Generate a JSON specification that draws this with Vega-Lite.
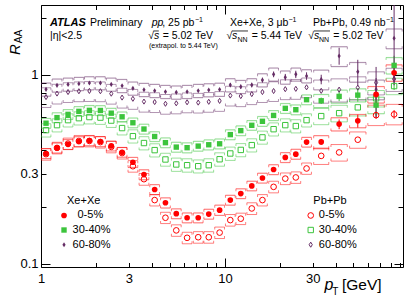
{
"$schema":"https://vega.github.io/schema/vega-lite/v6.json",
"width":362,"height":262,
"autosize":{"type":"none"},
"padding":{"left":41,"top":5,"right":8,"bottom":30},
"config":{"view":{"stroke":"#000","strokeWidth":1},"font":"Liberation Sans",
"axis":{"domain":false,"grid":false,"tickColor":"#000","tickWidth":1,"labelFont":"Liberation Sans","labelFontSize":13,"labelColor":"#000","labelFlush":false,"labelOverlap":false}},
"datasets":{
"bins":[{"b":1,"x":1.065,"lo":1.002,"hi":1.132},{"b":2,"x":1.222,"lo":1.15,"hi":1.299},{"b":3,"x":1.403,"lo":1.32,"hi":1.491},{"b":4,"x":1.607,"lo":1.512,"hi":1.708},{"b":5,"x":1.833,"lo":1.724,"hi":1.948},{"b":6,"x":2.104,"lo":1.979,"hi":2.237},{"b":7,"x":2.41,"lo":2.267,"hi":2.562},{"b":8,"x":2.76,"lo":2.596,"hi":2.934},{"b":9,"x":3.16,"lo":2.973,"hi":3.359},{"b":10,"x":3.63,"lo":3.415,"hi":3.859},{"b":11,"x":4.15,"lo":3.904,"hi":4.411},{"b":12,"x":4.75,"lo":4.468,"hi":5.049},{"b":13,"x":5.44,"lo":5.118,"hi":5.783},{"b":14,"x":6.23,"lo":5.861,"hi":6.622},{"b":15,"x":7.16,"lo":6.736,"hi":7.611},{"b":16,"x":8.17,"lo":7.686,"hi":8.685},{"b":17,"x":9.36,"lo":8.805,"hi":9.95},{"b":18,"x":10.7,"lo":10.07,"hi":11.37},{"b":19,"x":12.2,"lo":11.48,"hi":12.97},{"b":20,"x":14.0,"lo":13.17,"hi":14.88},{"b":21,"x":16.0,"lo":15.05,"hi":17.01},{"b":22,"x":18.4,"lo":17.31,"hi":19.56},{"b":23,"x":21.3,"lo":20.04,"hi":22.64},{"b":24,"x":24.3,"lo":22.86,"hi":25.83},{"b":25,"x":27.8,"lo":26.15,"hi":29.55},{"b":26,"x":33.4,"lo":30.39,"hi":36.71},{"b":27,"x":41.8,"lo":37.73,"hi":46.31},{"b":28,"x":52.8,"lo":47.65,"hi":58.5},{"b":29,"x":66.4,"lo":59.87,"hi":73.64},{"b":30,"x":83.2,"lo":75.23,"hi":92.02}],
"d":[
{"b":1,"c":"c0","s":"Xe","y":0.383,"sl":0.36,"sh":0.406},
{"b":2,"c":"c0","s":"Xe","y":0.41,"sl":0.385,"sh":0.435},
{"b":3,"c":"c0","s":"Xe","y":0.428,"sl":0.402,"sh":0.454},
{"b":4,"c":"c0","s":"Xe","y":0.443,"sl":0.416,"sh":0.47},
{"b":5,"c":"c0","s":"Xe","y":0.448,"sl":0.421,"sh":0.475},
{"b":6,"c":"c0","s":"Xe","y":0.443,"sl":0.416,"sh":0.47},
{"b":7,"c":"c0","s":"Xe","y":0.42,"sl":0.395,"sh":0.445},
{"b":8,"c":"c0","s":"Xe","y":0.389,"sl":0.366,"sh":0.412},
{"b":9,"c":"c0","s":"Xe","y":0.344,"sl":0.323,"sh":0.365},
{"b":10,"c":"c0","s":"Xe","y":0.296,"sl":0.278,"sh":0.314},
{"b":11,"c":"c0","s":"Xe","y":0.247,"sl":0.232,"sh":0.262},
{"b":12,"c":"c0","s":"Xe","y":0.21,"sl":0.197,"sh":0.223},
{"b":13,"c":"c0","s":"Xe","y":0.184,"sl":0.173,"sh":0.195},
{"b":14,"c":"c0","s":"Xe","y":0.175,"sl":0.1645,"sh":0.1855},
{"b":15,"c":"c0","s":"Xe","y":0.175,"sl":0.1645,"sh":0.1855},
{"b":16,"c":"c0","s":"Xe","y":0.183,"sl":0.172,"sh":0.194},
{"b":17,"c":"c0","s":"Xe","y":0.192,"sl":0.18,"sh":0.204},
{"b":18,"c":"c0","s":"Xe","y":0.217,"sl":0.204,"sh":0.23},
{"b":19,"c":"c0","s":"Xe","y":0.235,"sl":0.221,"sh":0.249},
{"b":20,"c":"c0","s":"Xe","y":0.258,"sl":0.243,"sh":0.273},
{"b":21,"c":"c0","s":"Xe","y":0.284,"sl":0.267,"sh":0.301},
{"b":22,"c":"c0","s":"Xe","y":0.315,"sl":0.296,"sh":0.334},
{"b":23,"c":"c0","s":"Xe","y":0.365,"sl":0.343,"sh":0.387},
{"b":24,"c":"c0","s":"Xe","y":0.38,"sl":0.357,"sh":0.403},
{"b":25,"c":"c0","s":"Xe","y":0.44,"sl":0.414,"sh":0.466,"el":0.43,"eh":0.45},
{"b":26,"c":"c0","s":"Xe","y":0.441,"sl":0.406,"sh":0.476,"el":0.425,"eh":0.457},
{"b":27,"c":"c0","s":"Xe","y":0.548,"sl":0.504,"sh":0.592,"el":0.515,"eh":0.58},
{"b":28,"c":"c0","s":"Xe","y":0.57,"sl":0.524,"sh":0.616,"el":0.525,"eh":0.615},
{"b":29,"c":"c0","s":"Xe","y":0.787,"sl":0.708,"sh":0.866,"el":0.71,"eh":0.87},
{"b":30,"c":"c0","s":"Xe","y":1.025,"sl":0.923,"sh":1.128,"el":0.92,"eh":1.14},
{"b":1,"c":"c0","s":"Pb","y":0.38,"sl":0.353,"sh":0.407},
{"b":2,"c":"c0","s":"Pb","y":0.41,"sl":0.381,"sh":0.439},
{"b":3,"c":"c0","s":"Pb","y":0.432,"sl":0.402,"sh":0.462},
{"b":4,"c":"c0","s":"Pb","y":0.446,"sl":0.415,"sh":0.477},
{"b":5,"c":"c0","s":"Pb","y":0.446,"sl":0.415,"sh":0.477},
{"b":6,"c":"c0","s":"Pb","y":0.44,"sl":0.409,"sh":0.471},
{"b":7,"c":"c0","s":"Pb","y":0.415,"sl":0.386,"sh":0.444},
{"b":8,"c":"c0","s":"Pb","y":0.385,"sl":0.358,"sh":0.412},
{"b":9,"c":"c0","s":"Pb","y":0.328,"sl":0.305,"sh":0.351},
{"b":10,"c":"c0","s":"Pb","y":0.28,"sl":0.26,"sh":0.3},
{"b":11,"c":"c0","s":"Pb","y":0.217,"sl":0.202,"sh":0.232},
{"b":12,"c":"c0","s":"Pb","y":0.175,"sl":0.163,"sh":0.187},
{"b":13,"c":"c0","s":"Pb","y":0.15,"sl":0.1395,"sh":0.1605},
{"b":14,"c":"c0","s":"Pb","y":0.137,"sl":0.1274,"sh":0.1466},
{"b":15,"c":"c0","s":"Pb","y":0.138,"sl":0.1283,"sh":0.1477},
{"b":16,"c":"c0","s":"Pb","y":0.138,"sl":0.1283,"sh":0.1477},
{"b":17,"c":"c0","s":"Pb","y":0.146,"sl":0.1358,"sh":0.1562},
{"b":18,"c":"c0","s":"Pb","y":0.17,"sl":0.158,"sh":0.182},
{"b":19,"c":"c0","s":"Pb","y":0.173,"sl":0.161,"sh":0.185},
{"b":20,"c":"c0","s":"Pb","y":0.196,"sl":0.182,"sh":0.21},
{"b":21,"c":"c0","s":"Pb","y":0.217,"sl":0.202,"sh":0.232},
{"b":22,"c":"c0","s":"Pb","y":0.255,"sl":0.237,"sh":0.273},
{"b":23,"c":"c0","s":"Pb","y":0.282,"sl":0.262,"sh":0.302},
{"b":24,"c":"c0","s":"Pb","y":0.286,"sl":0.266,"sh":0.306},
{"b":25,"c":"c0","s":"Pb","y":0.319,"sl":0.297,"sh":0.341},
{"b":26,"c":"c0","s":"Pb","y":0.372,"sl":0.335,"sh":0.409},
{"b":27,"c":"c0","s":"Pb","y":0.388,"sl":0.349,"sh":0.427},
{"b":28,"c":"c0","s":"Pb","y":0.453,"sl":0.408,"sh":0.498},
{"b":29,"c":"c0","s":"Pb","y":0.611,"sl":0.538,"sh":0.69,"el":0.585,"eh":0.638},
{"b":30,"c":"c0","s":"Pb","y":0.617,"sl":0.543,"sh":0.697,"el":0.585,"eh":0.65},
{"b":1,"c":"c3","s":"Xe","y":0.554,"sl":0.521,"sh":0.587},
{"b":2,"c":"c3","s":"Xe","y":0.593,"sl":0.557,"sh":0.629},
{"b":3,"c":"c3","s":"Xe","y":0.617,"sl":0.58,"sh":0.654},
{"b":4,"c":"c3","s":"Xe","y":0.64,"sl":0.602,"sh":0.678},
{"b":5,"c":"c3","s":"Xe","y":0.648,"sl":0.609,"sh":0.687},
{"b":6,"c":"c3","s":"Xe","y":0.647,"sl":0.608,"sh":0.686},
{"b":7,"c":"c3","s":"Xe","y":0.626,"sl":0.588,"sh":0.664},
{"b":8,"c":"c3","s":"Xe","y":0.599,"sl":0.563,"sh":0.635},
{"b":9,"c":"c3","s":"Xe","y":0.557,"sl":0.524,"sh":0.59},
{"b":10,"c":"c3","s":"Xe","y":0.516,"sl":0.485,"sh":0.547},
{"b":11,"c":"c3","s":"Xe","y":0.471,"sl":0.443,"sh":0.499},
{"b":12,"c":"c3","s":"Xe","y":0.437,"sl":0.411,"sh":0.463},
{"b":13,"c":"c3","s":"Xe","y":0.414,"sl":0.389,"sh":0.439},
{"b":14,"c":"c3","s":"Xe","y":0.411,"sl":0.386,"sh":0.436},
{"b":15,"c":"c3","s":"Xe","y":0.419,"sl":0.394,"sh":0.444},
{"b":16,"c":"c3","s":"Xe","y":0.426,"sl":0.4,"sh":0.452},
{"b":17,"c":"c3","s":"Xe","y":0.431,"sl":0.405,"sh":0.457},
{"b":18,"c":"c3","s":"Xe","y":0.482,"sl":0.453,"sh":0.511},
{"b":19,"c":"c3","s":"Xe","y":0.506,"sl":0.476,"sh":0.536},
{"b":20,"c":"c3","s":"Xe","y":0.54,"sl":0.508,"sh":0.572},
{"b":21,"c":"c3","s":"Xe","y":0.567,"sl":0.533,"sh":0.601},
{"b":22,"c":"c3","s":"Xe","y":0.609,"sl":0.572,"sh":0.646},
{"b":23,"c":"c3","s":"Xe","y":0.664,"sl":0.624,"sh":0.704},
{"b":24,"c":"c3","s":"Xe","y":0.653,"sl":0.614,"sh":0.692},
{"b":25,"c":"c3","s":"Xe","y":0.738,"sl":0.694,"sh":0.782,"el":0.72,"eh":0.756},
{"b":26,"c":"c3","s":"Xe","y":0.728,"sl":0.67,"sh":0.786,"el":0.7,"eh":0.757},
{"b":27,"c":"c3","s":"Xe","y":0.768,"sl":0.707,"sh":0.829,"el":0.725,"eh":0.815},
{"b":28,"c":"c3","s":"Xe","y":0.78,"sl":0.718,"sh":0.842,"el":0.72,"eh":0.845},
{"b":29,"c":"c3","s":"Xe","y":0.691,"sl":0.622,"sh":0.76,"el":0.61,"eh":0.78},
{"b":30,"c":"c3","s":"Xe","y":1.121,"sl":1.009,"sh":1.233,"el":1.0,"eh":1.26},
{"b":1,"c":"c3","s":"Pb","y":0.509,"sl":0.468,"sh":0.55},
{"b":2,"c":"c3","s":"Pb","y":0.541,"sl":0.498,"sh":0.584},
{"b":3,"c":"c3","s":"Pb","y":0.575,"sl":0.529,"sh":0.621},
{"b":4,"c":"c3","s":"Pb","y":0.589,"sl":0.542,"sh":0.636},
{"b":5,"c":"c3","s":"Pb","y":0.597,"sl":0.549,"sh":0.645},
{"b":6,"c":"c3","s":"Pb","y":0.593,"sl":0.546,"sh":0.64},
{"b":7,"c":"c3","s":"Pb","y":0.572,"sl":0.526,"sh":0.618},
{"b":8,"c":"c3","s":"Pb","y":0.522,"sl":0.48,"sh":0.564},
{"b":9,"c":"c3","s":"Pb","y":0.473,"sl":0.435,"sh":0.511},
{"b":10,"c":"c3","s":"Pb","y":0.435,"sl":0.4,"sh":0.47},
{"b":11,"c":"c3","s":"Pb","y":0.399,"sl":0.367,"sh":0.431},
{"b":12,"c":"c3","s":"Pb","y":0.356,"sl":0.328,"sh":0.384},
{"b":13,"c":"c3","s":"Pb","y":0.335,"sl":0.308,"sh":0.362},
{"b":14,"c":"c3","s":"Pb","y":0.332,"sl":0.305,"sh":0.359},
{"b":15,"c":"c3","s":"Pb","y":0.328,"sl":0.302,"sh":0.354},
{"b":16,"c":"c3","s":"Pb","y":0.332,"sl":0.305,"sh":0.359},
{"b":17,"c":"c3","s":"Pb","y":0.357,"sl":0.328,"sh":0.386},
{"b":18,"c":"c3","s":"Pb","y":0.383,"sl":0.352,"sh":0.414},
{"b":19,"c":"c3","s":"Pb","y":0.4,"sl":0.368,"sh":0.432},
{"b":20,"c":"c3","s":"Pb","y":0.424,"sl":0.39,"sh":0.458},
{"b":21,"c":"c3","s":"Pb","y":0.466,"sl":0.429,"sh":0.503},
{"b":22,"c":"c3","s":"Pb","y":0.515,"sl":0.474,"sh":0.556},
{"b":23,"c":"c3","s":"Pb","y":0.541,"sl":0.498,"sh":0.584},
{"b":24,"c":"c3","s":"Pb","y":0.535,"sl":0.492,"sh":0.578},
{"b":25,"c":"c3","s":"Pb","y":0.575,"sl":0.529,"sh":0.621},
{"b":26,"c":"c3","s":"Pb","y":0.604,"sl":0.544,"sh":0.664},
{"b":27,"c":"c3","s":"Pb","y":0.626,"sl":0.563,"sh":0.689},
{"b":28,"c":"c3","s":"Pb","y":0.672,"sl":0.605,"sh":0.739},
{"b":29,"c":"c3","s":"Pb","y":0.75,"sl":0.675,"sh":0.825,"el":0.72,"eh":0.78},
{"b":30,"c":"c3","s":"Pb","y":0.871,"sl":0.784,"sh":0.958,"el":0.83,"eh":0.91},
{"b":1,"c":"c6","s":"Xe","y":0.837,"sl":0.77,"sh":0.904},
{"b":2,"c":"c6","s":"Xe","y":0.879,"sl":0.809,"sh":0.949},
{"b":3,"c":"c6","s":"Xe","y":0.889,"sl":0.818,"sh":0.96},
{"b":4,"c":"c6","s":"Xe","y":0.896,"sl":0.824,"sh":0.968},
{"b":5,"c":"c6","s":"Xe","y":0.904,"sl":0.832,"sh":0.976},
{"b":6,"c":"c6","s":"Xe","y":0.904,"sl":0.832,"sh":0.976},
{"b":7,"c":"c6","s":"Xe","y":0.889,"sl":0.818,"sh":0.96},
{"b":8,"c":"c6","s":"Xe","y":0.874,"sl":0.804,"sh":0.944},
{"b":9,"c":"c6","s":"Xe","y":0.847,"sl":0.779,"sh":0.915},
{"b":10,"c":"c6","s":"Xe","y":0.833,"sl":0.766,"sh":0.9},
{"b":11,"c":"c6","s":"Xe","y":0.823,"sl":0.757,"sh":0.889},
{"b":12,"c":"c6","s":"Xe","y":0.813,"sl":0.748,"sh":0.878},
{"b":13,"c":"c6","s":"Xe","y":0.807,"sl":0.742,"sh":0.872},
{"b":14,"c":"c6","s":"Xe","y":0.813,"sl":0.748,"sh":0.878},
{"b":15,"c":"c6","s":"Xe","y":0.823,"sl":0.757,"sh":0.889},
{"b":16,"c":"c6","s":"Xe","y":0.83,"sl":0.764,"sh":0.896},
{"b":17,"c":"c6","s":"Xe","y":0.835,"sl":0.768,"sh":0.902},
{"b":18,"c":"c6","s":"Xe","y":0.882,"sl":0.811,"sh":0.953,"el":0.86,"eh":0.905},
{"b":19,"c":"c6","s":"Xe","y":0.864,"sl":0.795,"sh":0.933,"el":0.842,"eh":0.887},
{"b":20,"c":"c6","s":"Xe","y":0.882,"sl":0.811,"sh":0.953,"el":0.858,"eh":0.907},
{"b":21,"c":"c6","s":"Xe","y":0.937,"sl":0.862,"sh":1.012,"el":0.91,"eh":0.965},
{"b":22,"c":"c6","s":"Xe","y":1.005,"sl":0.925,"sh":1.085,"el":0.97,"eh":1.04},
{"b":23,"c":"c6","s":"Xe","y":0.969,"sl":0.891,"sh":1.047,"el":0.93,"eh":1.01},
{"b":24,"c":"c6","s":"Xe","y":1.005,"sl":0.925,"sh":1.085,"el":0.96,"eh":1.05},
{"b":25,"c":"c6","s":"Xe","y":0.984,"sl":0.905,"sh":1.063,"el":0.94,"eh":1.03},
{"b":26,"c":"c6","s":"Xe","y":0.945,"sl":0.832,"sh":1.058,"el":0.89,"eh":1.0},
{"b":27,"c":"c6","s":"Xe","y":1.256,"sl":1.105,"sh":1.407,"el":1.13,"eh":1.39},
{"b":28,"c":"c6","s":"Xe","y":1.037,"sl":0.913,"sh":1.161,"el":0.88,"eh":1.2},
{"b":29,"c":"c6","s":"Xe","y":0.837,"sl":0.737,"sh":0.937,"el":0.59,"eh":1.1},
{"b":30,"c":"c6","s":"Xe","y":1.56,"sl":1.373,"sh":1.747,"el":0.88,"eh":2.5},
{"b":1,"c":"c6","s":"Pb","y":0.762,"sl":0.671,"sh":0.853},
{"b":2,"c":"c6","s":"Pb","y":0.795,"sl":0.7,"sh":0.89},
{"b":3,"c":"c6","s":"Pb","y":0.81,"sl":0.713,"sh":0.907},
{"b":4,"c":"c6","s":"Pb","y":0.818,"sl":0.72,"sh":0.916},
{"b":5,"c":"c6","s":"Pb","y":0.821,"sl":0.722,"sh":0.92},
{"b":6,"c":"c6","s":"Pb","y":0.818,"sl":0.72,"sh":0.916},
{"b":7,"c":"c6","s":"Pb","y":0.794,"sl":0.699,"sh":0.889},
{"b":8,"c":"c6","s":"Pb","y":0.757,"sl":0.666,"sh":0.848},
{"b":9,"c":"c6","s":"Pb","y":0.746,"sl":0.656,"sh":0.836},
{"b":10,"c":"c6","s":"Pb","y":0.721,"sl":0.634,"sh":0.808},
{"b":11,"c":"c6","s":"Pb","y":0.717,"sl":0.631,"sh":0.803},
{"b":12,"c":"c6","s":"Pb","y":0.702,"sl":0.618,"sh":0.786},
{"b":13,"c":"c6","s":"Pb","y":0.706,"sl":0.621,"sh":0.791},
{"b":14,"c":"c6","s":"Pb","y":0.715,"sl":0.629,"sh":0.801},
{"b":15,"c":"c6","s":"Pb","y":0.712,"sl":0.627,"sh":0.797},
{"b":16,"c":"c6","s":"Pb","y":0.719,"sl":0.633,"sh":0.805},
{"b":17,"c":"c6","s":"Pb","y":0.727,"sl":0.64,"sh":0.814},
{"b":18,"c":"c6","s":"Pb","y":0.776,"sl":0.683,"sh":0.869},
{"b":19,"c":"c6","s":"Pb","y":0.771,"sl":0.678,"sh":0.864},
{"b":20,"c":"c6","s":"Pb","y":0.79,"sl":0.695,"sh":0.885},
{"b":21,"c":"c6","s":"Pb","y":0.81,"sl":0.713,"sh":0.907},
{"b":22,"c":"c6","s":"Pb","y":0.82,"sl":0.722,"sh":0.918},
{"b":23,"c":"c6","s":"Pb","y":0.839,"sl":0.738,"sh":0.94},
{"b":24,"c":"c6","s":"Pb","y":0.842,"sl":0.741,"sh":0.943},
{"b":25,"c":"c6","s":"Pb","y":0.858,"sl":0.755,"sh":0.961},
{"b":26,"c":"c6","s":"Pb","y":0.822,"sl":0.707,"sh":0.937},
{"b":27,"c":"c6","s":"Pb","y":0.834,"sl":0.717,"sh":0.951},
{"b":28,"c":"c6","s":"Pb","y":0.855,"sl":0.735,"sh":0.975},
{"b":29,"c":"c6","s":"Pb","y":0.909,"sl":0.782,"sh":1.036,"el":0.86,"eh":0.96},
{"b":30,"c":"c6","s":"Pb","y":0.949,"sl":0.816,"sh":1.082,"el":0.89,"eh":1.01}
],
"leg":[{"x":1.334,"y":0.1799,"c":"c0","s":"Xe"},{"x":1.334,"y":0.1507,"c":"c3","s":"Xe"},{"x":1.334,"y":0.126,"c":"c6","s":"Xe"},{"x":29.29,"y":0.1799,"c":"c0","s":"Pb"},{"x":29.29,"y":0.1507,"c":"c3","s":"Pb"},{"x":29.29,"y":0.126,"c":"c6","s":"Pb"}],
"tn":[{"x":1.847,"y":1.801,"t":"Preliminary"},{"x":1.119,"y":1.537,"t":"|η|<2.5"},{"x":4.566,"y":1.801,"t":", 25 pb"},{"x":3.833,"y":1.537,"t":"√"},{"x":4.589,"y":1.537,"t":"= 5.02 TeV"},{"x":10.66,"y":1.801,"t":"Xe+Xe, 3 μb"},{"x":10.2,"y":1.537,"t":"√"},{"x":13.99,"y":1.537,"t":"= 5.44 TeV"},{"x":30.14,"y":1.801,"t":"Pb+Pb, 0.49 nb"},{"x":28.41,"y":1.537,"t":"√"},{"x":38.86,"y":1.537,"t":"= 5.02 TeV"}],
"tbi":[{"x":1.119,"y":1.801,"t":"ATLAS"}],
"ti":[{"x":3.999,"y":1.801,"t":"pp"},{"x":4.117,"y":1.537,"t":"s"},{"x":10.93,"y":1.537,"t":"s"},{"x":30.52,"y":1.537,"t":"s"}],
"ts":[{"x":6.877,"y":1.903,"t":"−1"},{"x":22.17,"y":1.903,"t":"−1"},{"x":75.17,"y":1.903,"t":"−1"},{"x":11.71,"y":1.482,"t":"NN"},{"x":32.49,"y":1.482,"t":"NN"},{"x":3.867,"y":1.385,"t":"(extrapol. to 5.44 TeV)"}],
"ol":[{"x":4.091,"x2":4.371,"y":1.705},{"x":10.93,"x2":13.35,"y":1.705},{"x":30.52,"x2":37.28,"y":1.705}],
"tl":[{"x":1.385,"y":0.2147,"t":"Xe+Xe"},{"x":1.579,"y":0.1799,"t":"0-5%"},{"x":1.484,"y":0.1507,"t":"30-40%"},{"x":1.484,"y":0.126,"t":"60-80%"},{"x":30.25,"y":0.2147,"t":"Pb+Pb"},{"x":32.4,"y":0.1799,"t":"0-5%"},{"x":32.4,"y":0.1507,"t":"30-40%"},{"x":32.4,"y":0.126,"t":"60-80%"}],
"tpi":[{"x":34.8,"y":0.0725,"t":"p"}],
"tpn":[{"x":43.3,"y":0.0725,"t":"[GeV]"}],
"tpt":[{"x":38.4,"y":0.0682,"t":"T"}],
"tR":[{"x":0.769,"y":1.272,"t":"R"}],
"tAA":[{"x":0.788,"y":1.47,"t":"AA"}]
},
"layer":[
{"layer":[
 {"data":{"name":"d"},
  "transform":[{"lookup":"b","from":{"data":{"name":"bins"},"key":"b","fields":["x","lo","hi"]}}],
  "layer":[
   {"mark":{"type":"rule","clip":true,"opacity":0.5},
    "encoding":{
     "x":{"field":"lo","type":"quantitative","scale":{"type":"log","domain":[1,93],"nice":false},
      "axis":{"orient":"bottom","title":null,"values":[1,2,3,4,5,6,7,8,9,10,20,30,40,50,60,70,80,90],
       "tickSize":{"condition":{"test":"datum.value==1||datum.value==10","value":-9},"value":-4.5},
       "labelPadding":{"condition":{"test":"datum.value==1||datum.value==10","value":14},"value":9.5},
       "labelExpr":"datum.value==1?'1':datum.value==3?'3':datum.value==10?'10':datum.value==30?'30':''"}},
     "x2":{"field":"hi"},
     "y":{"field":"sh","type":"quantitative","scale":{"type":"log","domain":[0.096,2.34],"nice":false},
      "axis":{"orient":"left","title":null,"values":[0.1,0.2,0.3,0.4,0.5,0.6,0.7,0.8,0.9,1,2],
       "tickSize":{"condition":{"test":"datum.value==0.1||datum.value==1","value":-9},"value":-5},
       "labelPadding":{"condition":{"test":"datum.value==0.1||datum.value==1","value":12},"value":8},
       "labelExpr":"datum.value==0.1?'0.1':datum.value==0.3?'0.3':datum.value==1?'1':''"}},
     "color":{"field":"c","type":"nominal","scale":{"domain":["c0","c3","c6"],"range":["#ff0000","#3cc43c","#652d65"]},"legend":null},
     "strokeWidth":{"field":"s","type":"nominal","scale":{"domain":["Xe","Pb"],"range":[1.2,1]},"legend":null}}},
   {"mark":{"type":"rule","clip":true,"opacity":0.5},
    "encoding":{"x":{"field":"lo","type":"quantitative"},"x2":{"field":"hi"},"y":{"field":"sl","type":"quantitative"},
     "color":{"field":"c","type":"nominal","legend":null},"strokeWidth":{"field":"s","type":"nominal","legend":null}}},
   {"mark":{"type":"tick","orient":"vertical","clip":true,"size":2.5,"thickness":1,"yOffset":1.25,"opacity":0.5},
    "encoding":{"x":{"field":"lo","type":"quantitative"},"y":{"field":"sh","type":"quantitative"},"color":{"field":"c","type":"nominal","legend":null}}},
   {"mark":{"type":"tick","orient":"vertical","clip":true,"size":2.5,"thickness":1,"yOffset":1.25,"opacity":0.5},
    "encoding":{"x":{"field":"hi","type":"quantitative"},"y":{"field":"sh","type":"quantitative"},"color":{"field":"c","type":"nominal","legend":null}}},
   {"mark":{"type":"tick","orient":"vertical","clip":true,"size":2.5,"thickness":1,"yOffset":-1.25,"opacity":0.5},
    "encoding":{"x":{"field":"lo","type":"quantitative"},"y":{"field":"sl","type":"quantitative"},"color":{"field":"c","type":"nominal","legend":null}}},
   {"mark":{"type":"tick","orient":"vertical","clip":true,"size":2.5,"thickness":1,"yOffset":-1.25,"opacity":0.5},
    "encoding":{"x":{"field":"hi","type":"quantitative"},"y":{"field":"sl","type":"quantitative"},"color":{"field":"c","type":"nominal","legend":null}}},
   {"mark":{"type":"rule","clip":true,"strokeWidth":1},
    "encoding":{"x":{"field":"x","type":"quantitative"},"y":{"field":"el","type":"quantitative"},"y2":{"field":"eh"},"color":{"field":"c","type":"nominal","legend":null}}},
   {"transform":[{"filter":"datum.s=='Pb'"}],
    "mark":{"type":"point","filled":false,"opacity":1,"strokeWidth":1,"clip":true},
    "encoding":{"x":{"field":"x","type":"quantitative"},"y":{"field":"y","type":"quantitative"},
     "color":{"field":"c","type":"nominal","legend":null},
     "shape":{"field":"c","type":"nominal","scale":{"domain":["c0","c3","c6"],"range":["circle","square","M0,-1L0.62,0L0,1L-0.62,0Z"]},"legend":null},
     "size":{"field":"c","type":"nominal","scale":{"domain":["c0","c3","c6"],"range":[32,26,52]},"legend":null}}},
   {"transform":[{"filter":"datum.s=='Xe'"}],
    "mark":{"type":"point","filled":true,"opacity":1,"clip":true},
    "encoding":{"x":{"field":"x","type":"quantitative"},"y":{"field":"y","type":"quantitative"},
     "color":{"field":"c","type":"nominal","legend":null},
     "shape":{"field":"c","type":"nominal","legend":null},
     "size":{"field":"c","type":"nominal","legend":null}}}
  ]},
 {"data":{"name":"leg"},"transform":[{"filter":"datum.s=='Pb'"}],
  "mark":{"type":"point","filled":false,"opacity":1,"strokeWidth":1},
  "encoding":{"x":{"field":"x","type":"quantitative"},"y":{"field":"y","type":"quantitative"},
   "color":{"field":"c","type":"nominal","legend":null},"shape":{"field":"c","type":"nominal","legend":null},"size":{"field":"c","type":"nominal","legend":null}}},
 {"data":{"name":"leg"},"transform":[{"filter":"datum.s=='Xe'"}],
  "mark":{"type":"point","filled":true,"opacity":1},
  "encoding":{"x":{"field":"x","type":"quantitative"},"y":{"field":"y","type":"quantitative"},
   "color":{"field":"c","type":"nominal","legend":null},"shape":{"field":"c","type":"nominal","legend":null},"size":{"field":"c","type":"nominal","legend":null}}},
 {"data":{"name":"ol"},"mark":{"type":"rule","strokeWidth":0.8,"color":"#000"},
  "encoding":{"x":{"field":"x","type":"quantitative"},"x2":{"field":"x2"},"y":{"field":"y","type":"quantitative"}}},
 {"data":{"name":"tn"},"mark":{"type":"text","align":"left","baseline":"alphabetic","fontSize":10.5,"color":"#000"},
  "encoding":{"x":{"field":"x","type":"quantitative"},"y":{"field":"y","type":"quantitative"},"text":{"field":"t"}}},
 {"data":{"name":"tbi"},"mark":{"type":"text","align":"left","baseline":"alphabetic","fontSize":11,"fontWeight":"bold","fontStyle":"italic","color":"#000"},
  "encoding":{"x":{"field":"x","type":"quantitative"},"y":{"field":"y","type":"quantitative"},"text":{"field":"t"}}},
 {"data":{"name":"ti"},"mark":{"type":"text","align":"left","baseline":"alphabetic","fontSize":10.5,"fontStyle":"italic","color":"#000"},
  "encoding":{"x":{"field":"x","type":"quantitative"},"y":{"field":"y","type":"quantitative"},"text":{"field":"t"}}},
 {"data":{"name":"ts"},"mark":{"type":"text","align":"left","baseline":"alphabetic","fontSize":7,"color":"#000"},
  "encoding":{"x":{"field":"x","type":"quantitative"},"y":{"field":"y","type":"quantitative"},"text":{"field":"t"}}},
 {"data":{"name":"tl"},"mark":{"type":"text","align":"left","baseline":"middle","fontSize":11,"color":"#000"},
  "encoding":{"x":{"field":"x","type":"quantitative"},"y":{"field":"y","type":"quantitative"},"text":{"field":"t"}}},
 {"data":{"name":"tpi"},"mark":{"type":"text","align":"left","baseline":"alphabetic","fontSize":16,"fontStyle":"italic","color":"#000"},
  "encoding":{"x":{"field":"x","type":"quantitative"},"y":{"field":"y","type":"quantitative"},"text":{"field":"t"}}},
 {"data":{"name":"tpn"},"mark":{"type":"text","align":"left","baseline":"alphabetic","fontSize":15.5,"color":"#000"},
  "encoding":{"x":{"field":"x","type":"quantitative"},"y":{"field":"y","type":"quantitative"},"text":{"field":"t"}}},
 {"data":{"name":"tpt"},"mark":{"type":"text","align":"left","baseline":"alphabetic","fontSize":10,"color":"#000"},
  "encoding":{"x":{"field":"x","type":"quantitative"},"y":{"field":"y","type":"quantitative"},"text":{"field":"t"}}},
 {"data":{"name":"tR"},"mark":{"type":"text","align":"left","baseline":"alphabetic","fontSize":15,"fontStyle":"italic","angle":270,"color":"#000"},
  "encoding":{"x":{"field":"x","type":"quantitative"},"y":{"field":"y","type":"quantitative"},"text":{"field":"t"}}},
 {"data":{"name":"tAA"},"mark":{"type":"text","align":"left","baseline":"alphabetic","fontSize":10,"angle":270,"color":"#000"},
  "encoding":{"x":{"field":"x","type":"quantitative"},"y":{"field":"y","type":"quantitative"},"text":{"field":"t"}}}
]},
{"data":{"name":"leg"},"mark":{"type":"point","opacity":0},
 "encoding":{
  "x":{"field":"x","type":"quantitative","axis":{"orient":"top","title":null,"labels":false,"values":[1,2,3,4,5,6,7,8,9,10,20,30,40,50,60,70,80,90],
   "tickSize":{"condition":{"test":"datum.value==1||datum.value==10","value":-9},"value":-4.5}}},
  "y":{"field":"y","type":"quantitative","axis":{"orient":"right","title":null,"labels":false,"values":[0.1,0.2,0.3,0.4,0.5,0.6,0.7,0.8,0.9,1,2],
   "tickSize":{"condition":{"test":"datum.value==0.1||datum.value==1","value":-9},"value":-5}}}}}
],
"resolve":{"axis":{"x":"independent","y":"independent"}}
}
